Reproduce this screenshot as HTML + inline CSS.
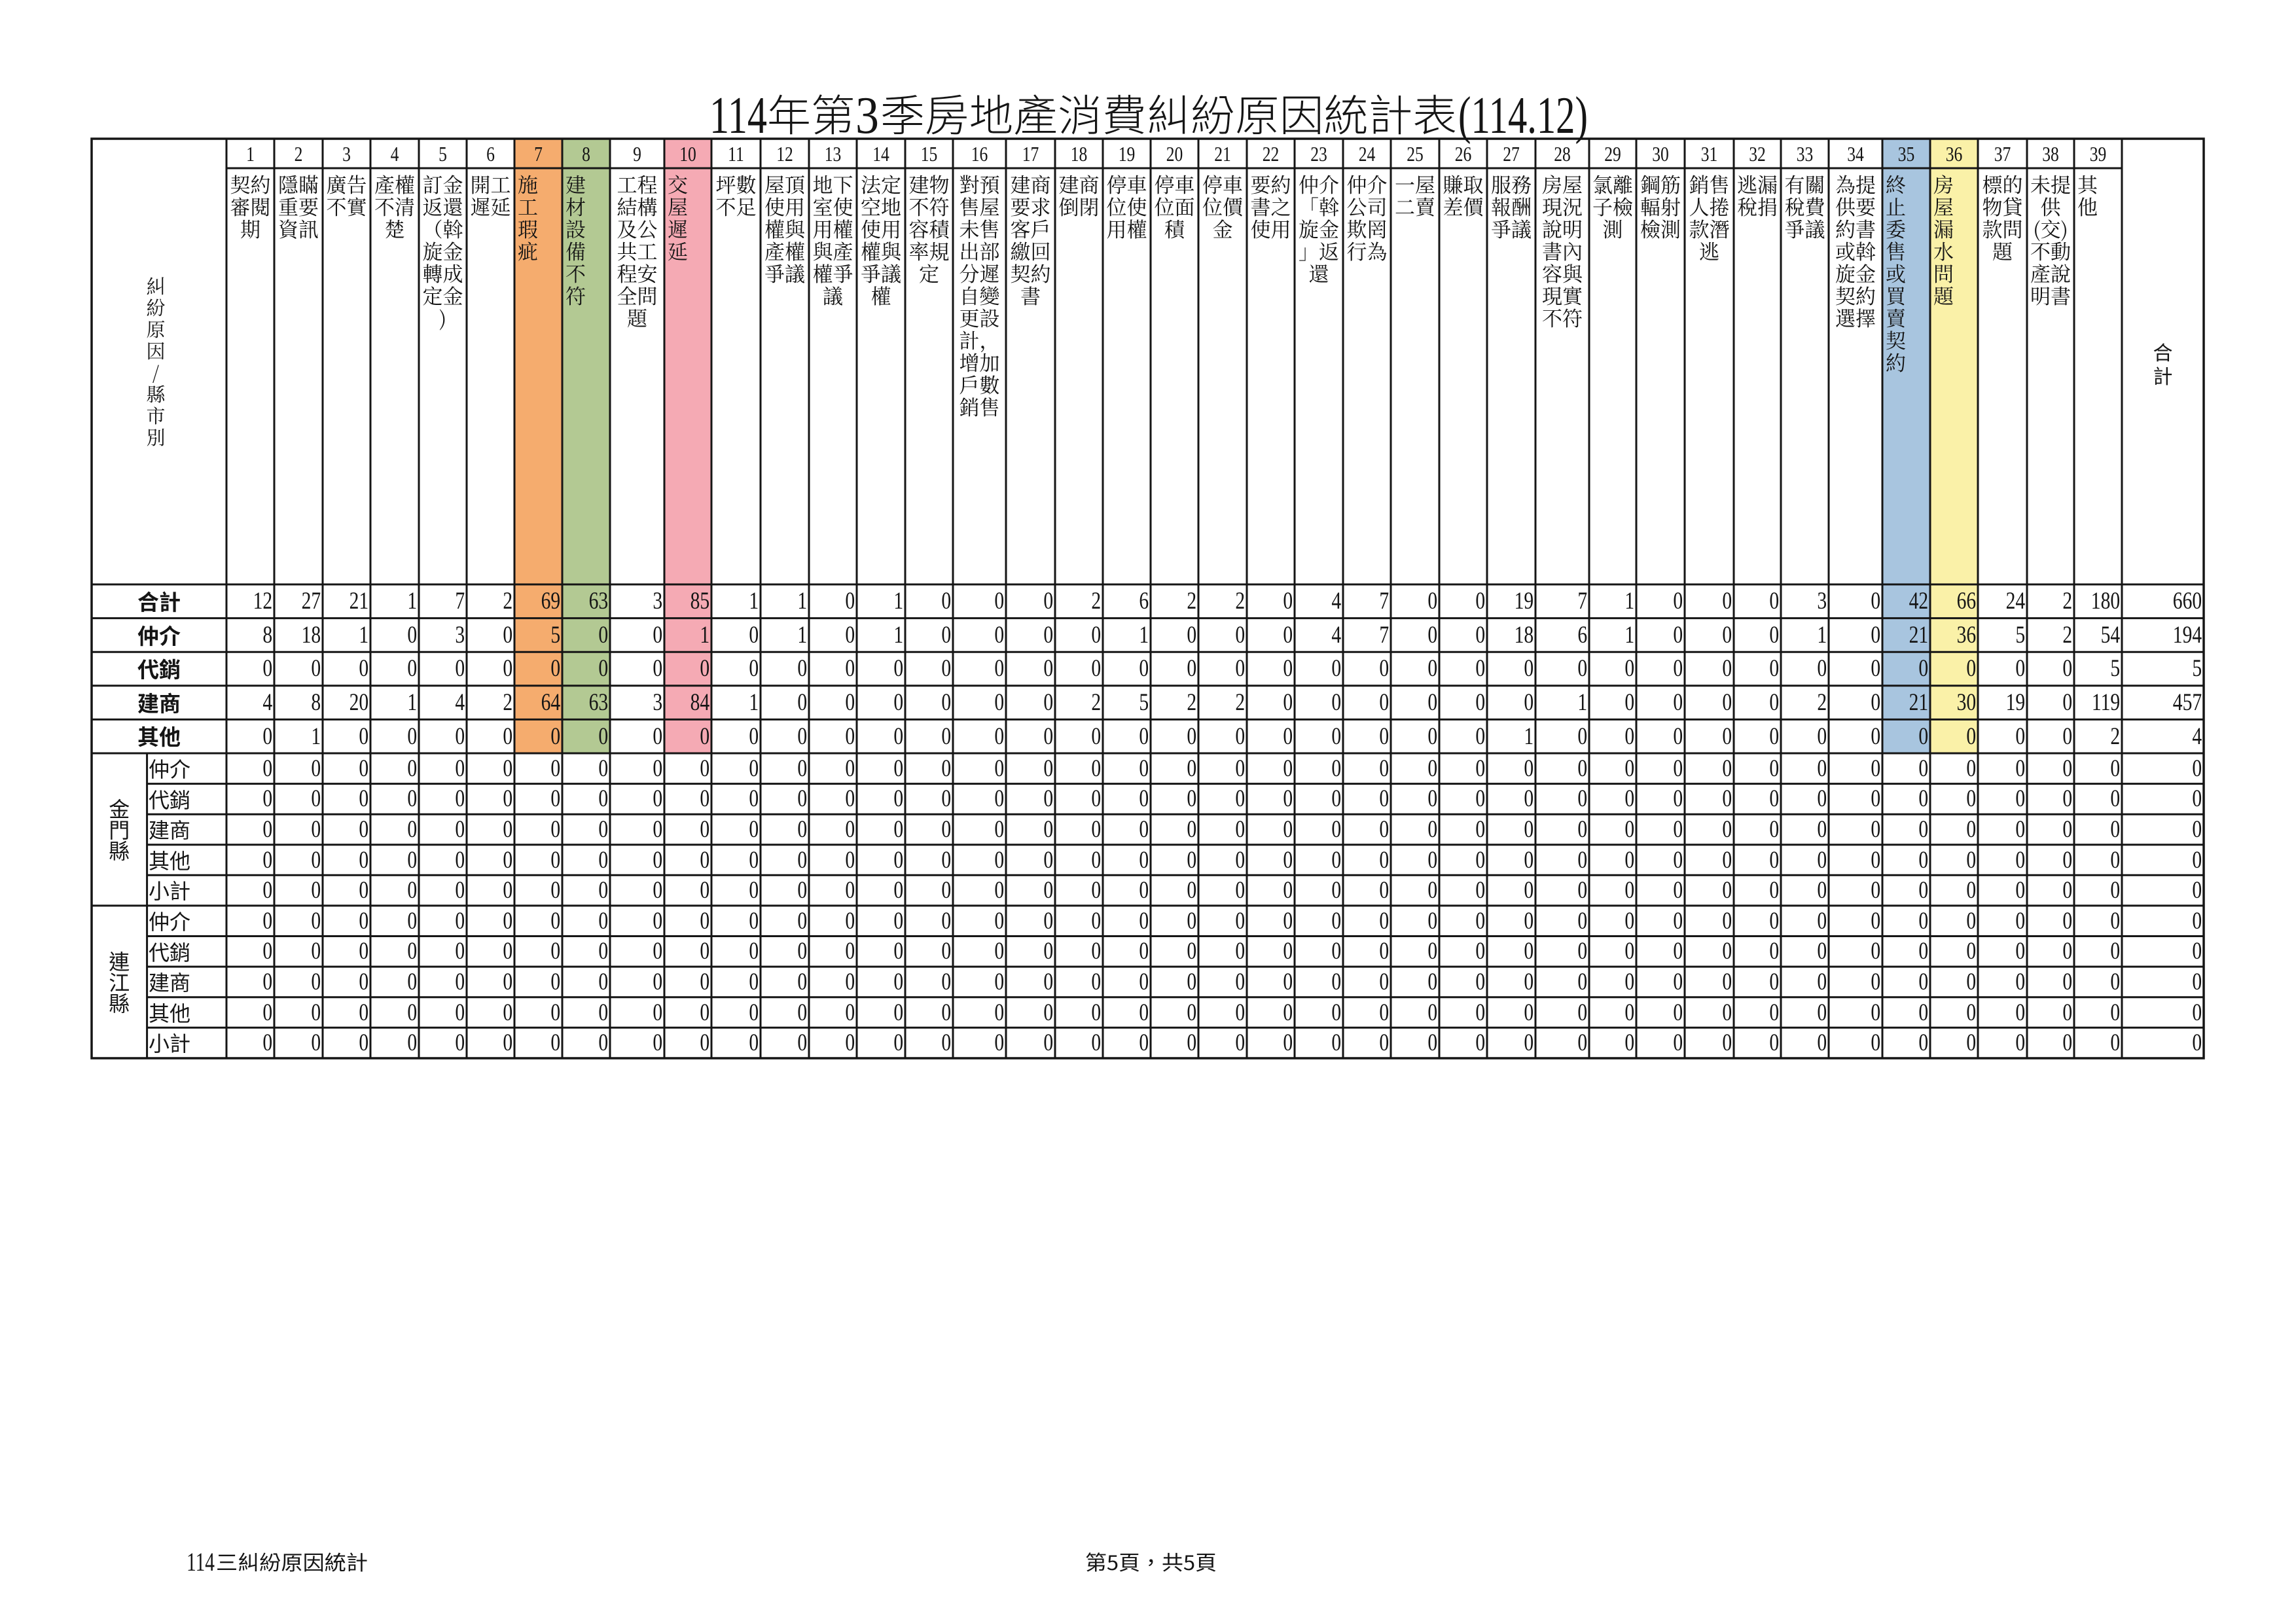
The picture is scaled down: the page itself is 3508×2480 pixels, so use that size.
<!DOCTYPE html>
<html><head><meta charset="utf-8">
<style>
*{margin:0;padding:0}
body{width:3508px;height:2480px;position:relative;background:#fff;overflow:hidden;color:#151515}
table{border-collapse:separate;border-spacing:0;table-layout:fixed;position:absolute}
td{padding:0;white-space:nowrap;overflow:visible}
.h{left:346px;top:257px;width:2896px}
.h td{height:629px;padding-top:7px;vertical-align:top;text-align:center;font:31px/34px "Noto Serif CJK SC","Noto Sans CJK TC",serif}
.h td.s{text-align:left;padding-left:5px}
.n{left:346px;top:212px;width:3776.25px;transform:scaleX(.8);transform-origin:0 0;font-family:"Liberation Serif",serif}
.n td{text-align:right;padding-right:3.5px;font-size:37px;line-height:1;vertical-align:middle}
.n tr.k td{height:45px;text-align:center;font-size:32px;padding:0}
.n tr.sp td{height:636px}
.n tr.m td{height:51.6px}
.n tr.c td{height:46.6px}
.lb{position:absolute;left:140px;width:206px;text-align:center;font:bold 33px "Noto Sans CJK TC","Noto Sans CJK SC",sans-serif;height:51.6px;line-height:51.6px}
.sl{position:absolute;left:227px;font:32px "Noto Sans CJK TC","Noto Sans CJK SC",sans-serif;height:46.6px;line-height:46.6px}
.cty{position:absolute;left:140px;width:84.6px;text-align:center;font:32px/32px "Noto Sans CJK TC","Noto Sans CJK SC",sans-serif}
</style></head>
<body>
<svg width="3508" height="2480" style="position:absolute;left:0;top:0" xmlns="http://www.w3.org/2000/svg">
<rect x="786" y="212" width="73" height="939" fill="#F5AC6E"/>
<rect x="859" y="212" width="73" height="939" fill="#B3C993"/>
<rect x="1015" y="212" width="72" height="939" fill="#F5AAB4"/>
<rect x="2876" y="212" width="73" height="939" fill="#A8C5DF"/>
<rect x="2949" y="212" width="73" height="939" fill="#FAF1A8"/>
<g stroke="#151515" stroke-width="3" fill="none">
<path d="M346 212V1617M419 212V1617M493 212V1617M566 212V1617M640 212V1617M713 212V1617M786 212V1617M859 212V1617M932 212V1617M1015 212V1617M1087 212V1617M1162 212V1617M1236 212V1617M1309 212V1617M1383 212V1617M1456 212V1617M1537 212V1617M1612 212V1617M1685 212V1617M1758 212V1617M1831 212V1617M1905 212V1617M1978 212V1617M2052 212V1617M2125 212V1617M2199 212V1617M2272 212V1617M2346 212V1617M2428 212V1617M2500 212V1617M2574 212V1617M2649 212V1617M2721 212V1617M2794 212V1617M2876 212V1617M2949 212V1617M3022 212V1617M3097 212V1617M3169 212V1617M3242 212V1617M224.6 1151V1617"/>
<path d="M346 257H3242M140 893H3367M140 944.6H3367M140 996.2H3367M140 1047.8H3367M140 1099.4H3367M140 1151H3367M224.6 1197.6H3367M224.6 1244.2H3367M224.6 1290.7H3367M224.6 1337.3H3367M140 1383.9H3367M224.6 1430.5H3367M224.6 1477.1H3367M224.6 1523.7H3367M224.6 1570.3H3367"/>
<rect x="140" y="212" width="3227" height="1405" stroke-width="3.5"/>
</g>
<g fill="#151515">
<text x="1084" y="203" font-family="Liberation Serif" font-size="80" textLength="88" lengthAdjust="spacingAndGlyphs">114</text>
<text x="1172" y="200" font-family="Noto Sans CJK TC, Noto Sans CJK SC, sans-serif" font-weight="300" font-size="66" textLength="134" lengthAdjust="spacingAndGlyphs">年第</text>
<text x="1307" y="203" font-family="Liberation Serif" font-size="80" textLength="36" lengthAdjust="spacingAndGlyphs">3</text>
<text x="1345" y="200" font-family="Noto Sans CJK TC, Noto Sans CJK SC, sans-serif" font-weight="300" font-size="66" textLength="881" lengthAdjust="spacingAndGlyphs">季房地產消費糾紛原因統計表</text>
<text x="2228" y="203" font-family="Liberation Serif" font-size="80" textLength="198" lengthAdjust="spacingAndGlyphs">(114.12)</text>
<text x="285" y="2400" font-family="Liberation Serif" font-size="40" textLength="43" lengthAdjust="spacingAndGlyphs">114</text>
<text x="330" y="2399" font-family="Noto Sans CJK TC, Noto Sans CJK SC, sans-serif" font-size="31" textLength="232" lengthAdjust="spacingAndGlyphs">三糾紛原因統計</text>
<text x="1658" y="2399" font-family="Noto Sans CJK TC, Noto Sans CJK SC, sans-serif" font-size="31" textLength="201" lengthAdjust="spacingAndGlyphs">第5頁，共5頁</text>
</g>
</svg>

<div style="position:absolute;left:140px;width:196px;top:420px;text-align:center;font:29px/33px 'Noto Serif CJK SC','Noto Sans CJK TC',serif">糾<br>紛<br>原<br>因<br>/<br>縣<br>市<br>別</div>
<div style="position:absolute;left:3242px;width:125px;top:519px;text-align:center;font:30px/36px 'Noto Sans CJK TC','Noto Sans CJK SC',sans-serif">合<br>計</div>

<table class="h">
<colgroup><col style="width:73px"><col style="width:74px"><col style="width:73px"><col style="width:74px"><col style="width:73px"><col style="width:73px"><col style="width:73px"><col style="width:73px"><col style="width:83px"><col style="width:72px"><col style="width:75px"><col style="width:74px"><col style="width:73px"><col style="width:74px"><col style="width:73px"><col style="width:81px"><col style="width:75px"><col style="width:73px"><col style="width:73px"><col style="width:73px"><col style="width:74px"><col style="width:73px"><col style="width:74px"><col style="width:73px"><col style="width:74px"><col style="width:73px"><col style="width:74px"><col style="width:82px"><col style="width:72px"><col style="width:74px"><col style="width:75px"><col style="width:72px"><col style="width:73px"><col style="width:82px"><col style="width:73px"><col style="width:73px"><col style="width:75px"><col style="width:72px"><col style="width:73px"></colgroup>
<tr>
<td>契約<br>審閱<br>期</td>
<td>隱瞞<br>重要<br>資訊</td>
<td>廣告<br>不實</td>
<td>產權<br>不清<br>楚</td>
<td>訂金<br>返還<br>（斡<br>旋金<br>轉成<br>定金<br>)</td>
<td>開工<br>遲延</td>
<td class="s">施<br>工<br>瑕<br>疵</td>
<td class="s">建<br>材<br>設<br>備<br>不<br>符</td>
<td>工程<br>結構<br>及公<br>共工<br>程安<br>全問<br>題</td>
<td class="s">交<br>屋<br>遲<br>延</td>
<td>坪數<br>不足</td>
<td>屋頂<br>使用<br>權與<br>產權<br>爭議</td>
<td>地下<br>室使<br>用權<br>與產<br>權爭<br>議</td>
<td>法定<br>空地<br>使用<br>權與<br>爭議<br>權</td>
<td>建物<br>不符<br>容積<br>率規<br>定</td>
<td>對預<br>售屋<br>未售<br>出部<br>分遲<br>自變<br>更設<br>計，<br>增加<br>戶數<br>銷售</td>
<td>建商<br>要求<br>客戶<br>繳回<br>契約<br>書</td>
<td>建商<br>倒閉</td>
<td>停車<br>位使<br>用權</td>
<td>停車<br>位面<br>積</td>
<td>停車<br>位價<br>金</td>
<td>要約<br>書之<br>使用</td>
<td>仲介<br>「斡<br>旋金<br>」返<br>還</td>
<td>仲介<br>公司<br>欺罔<br>行為</td>
<td>一屋<br>二賣</td>
<td>賺取<br>差價</td>
<td>服務<br>報酬<br>爭議</td>
<td>房屋<br>現況<br>說明<br>書內<br>容與<br>現實<br>不符</td>
<td>氯離<br>子檢<br>測</td>
<td>鋼筋<br>輻射<br>檢測</td>
<td>銷售<br>人捲<br>款潛<br>逃</td>
<td>逃漏<br>稅捐</td>
<td>有關<br>稅費<br>爭議</td>
<td>為提<br>供要<br>約書<br>或斡<br>旋金<br>契約<br>選擇</td>
<td class="s">終<br>止<br>委<br>售<br>或<br>買<br>賣<br>契<br>約</td>
<td class="s">房<br>屋<br>漏<br>水<br>問<br>題</td>
<td>標的<br>物貸<br>款問<br>題</td>
<td>未提<br>供<br>(交)<br>不動<br>產說<br>明書</td>
<td class="s">其<br>他</td>
</tr>
</table>

<table class="n">
<colgroup><col style="width:91.25px"><col style="width:92.5px"><col style="width:91.25px"><col style="width:92.5px"><col style="width:91.25px"><col style="width:91.25px"><col style="width:91.25px"><col style="width:91.25px"><col style="width:103.75px"><col style="width:90px"><col style="width:93.75px"><col style="width:92.5px"><col style="width:91.25px"><col style="width:92.5px"><col style="width:91.25px"><col style="width:101.25px"><col style="width:93.75px"><col style="width:91.25px"><col style="width:91.25px"><col style="width:91.25px"><col style="width:92.5px"><col style="width:91.25px"><col style="width:92.5px"><col style="width:91.25px"><col style="width:92.5px"><col style="width:91.25px"><col style="width:92.5px"><col style="width:102.5px"><col style="width:90px"><col style="width:92.5px"><col style="width:93.75px"><col style="width:90px"><col style="width:91.25px"><col style="width:102.5px"><col style="width:91.25px"><col style="width:91.25px"><col style="width:93.75px"><col style="width:90px"><col style="width:91.25px"><col style="width:156.25px"></colgroup>
<tr class="k"><td>1<td>2<td>3<td>4<td>5<td>6<td>7<td>8<td>9<td>10<td>11<td>12<td>13<td>14<td>15<td>16<td>17<td>18<td>19<td>20<td>21<td>22<td>23<td>24<td>25<td>26<td>27<td>28<td>29<td>30<td>31<td>32<td>33<td>34<td>35<td>36<td>37<td>38<td>39<td></td></tr>
<tr class="sp"><td colspan="40"></td></tr>
<tr class="m"><td>12<td>27<td>21<td>1<td>7<td>2<td>69<td>63<td>3<td>85<td>1<td>1<td>0<td>1<td>0<td>0<td>0<td>2<td>6<td>2<td>2<td>0<td>4<td>7<td>0<td>0<td>19<td>7<td>1<td>0<td>0<td>0<td>3<td>0<td>42<td>66<td>24<td>2<td>180<td>660</td></tr>
<tr class="m"><td>8<td>18<td>1<td>0<td>3<td>0<td>5<td>0<td>0<td>1<td>0<td>1<td>0<td>1<td>0<td>0<td>0<td>0<td>1<td>0<td>0<td>0<td>4<td>7<td>0<td>0<td>18<td>6<td>1<td>0<td>0<td>0<td>1<td>0<td>21<td>36<td>5<td>2<td>54<td>194</td></tr>
<tr class="m"><td>0<td>0<td>0<td>0<td>0<td>0<td>0<td>0<td>0<td>0<td>0<td>0<td>0<td>0<td>0<td>0<td>0<td>0<td>0<td>0<td>0<td>0<td>0<td>0<td>0<td>0<td>0<td>0<td>0<td>0<td>0<td>0<td>0<td>0<td>0<td>0<td>0<td>0<td>5<td>5</td></tr>
<tr class="m"><td>4<td>8<td>20<td>1<td>4<td>2<td>64<td>63<td>3<td>84<td>1<td>0<td>0<td>0<td>0<td>0<td>0<td>2<td>5<td>2<td>2<td>0<td>0<td>0<td>0<td>0<td>0<td>1<td>0<td>0<td>0<td>0<td>2<td>0<td>21<td>30<td>19<td>0<td>119<td>457</td></tr>
<tr class="m"><td>0<td>1<td>0<td>0<td>0<td>0<td>0<td>0<td>0<td>0<td>0<td>0<td>0<td>0<td>0<td>0<td>0<td>0<td>0<td>0<td>0<td>0<td>0<td>0<td>0<td>0<td>1<td>0<td>0<td>0<td>0<td>0<td>0<td>0<td>0<td>0<td>0<td>0<td>2<td>4</td></tr>
<tr class="c"><td>0<td>0<td>0<td>0<td>0<td>0<td>0<td>0<td>0<td>0<td>0<td>0<td>0<td>0<td>0<td>0<td>0<td>0<td>0<td>0<td>0<td>0<td>0<td>0<td>0<td>0<td>0<td>0<td>0<td>0<td>0<td>0<td>0<td>0<td>0<td>0<td>0<td>0<td>0<td>0</td></tr>
<tr class="c"><td>0<td>0<td>0<td>0<td>0<td>0<td>0<td>0<td>0<td>0<td>0<td>0<td>0<td>0<td>0<td>0<td>0<td>0<td>0<td>0<td>0<td>0<td>0<td>0<td>0<td>0<td>0<td>0<td>0<td>0<td>0<td>0<td>0<td>0<td>0<td>0<td>0<td>0<td>0<td>0</td></tr>
<tr class="c"><td>0<td>0<td>0<td>0<td>0<td>0<td>0<td>0<td>0<td>0<td>0<td>0<td>0<td>0<td>0<td>0<td>0<td>0<td>0<td>0<td>0<td>0<td>0<td>0<td>0<td>0<td>0<td>0<td>0<td>0<td>0<td>0<td>0<td>0<td>0<td>0<td>0<td>0<td>0<td>0</td></tr>
<tr class="c"><td>0<td>0<td>0<td>0<td>0<td>0<td>0<td>0<td>0<td>0<td>0<td>0<td>0<td>0<td>0<td>0<td>0<td>0<td>0<td>0<td>0<td>0<td>0<td>0<td>0<td>0<td>0<td>0<td>0<td>0<td>0<td>0<td>0<td>0<td>0<td>0<td>0<td>0<td>0<td>0</td></tr>
<tr class="c"><td>0<td>0<td>0<td>0<td>0<td>0<td>0<td>0<td>0<td>0<td>0<td>0<td>0<td>0<td>0<td>0<td>0<td>0<td>0<td>0<td>0<td>0<td>0<td>0<td>0<td>0<td>0<td>0<td>0<td>0<td>0<td>0<td>0<td>0<td>0<td>0<td>0<td>0<td>0<td>0</td></tr>
<tr class="c"><td>0<td>0<td>0<td>0<td>0<td>0<td>0<td>0<td>0<td>0<td>0<td>0<td>0<td>0<td>0<td>0<td>0<td>0<td>0<td>0<td>0<td>0<td>0<td>0<td>0<td>0<td>0<td>0<td>0<td>0<td>0<td>0<td>0<td>0<td>0<td>0<td>0<td>0<td>0<td>0</td></tr>
<tr class="c"><td>0<td>0<td>0<td>0<td>0<td>0<td>0<td>0<td>0<td>0<td>0<td>0<td>0<td>0<td>0<td>0<td>0<td>0<td>0<td>0<td>0<td>0<td>0<td>0<td>0<td>0<td>0<td>0<td>0<td>0<td>0<td>0<td>0<td>0<td>0<td>0<td>0<td>0<td>0<td>0</td></tr>
<tr class="c"><td>0<td>0<td>0<td>0<td>0<td>0<td>0<td>0<td>0<td>0<td>0<td>0<td>0<td>0<td>0<td>0<td>0<td>0<td>0<td>0<td>0<td>0<td>0<td>0<td>0<td>0<td>0<td>0<td>0<td>0<td>0<td>0<td>0<td>0<td>0<td>0<td>0<td>0<td>0<td>0</td></tr>
<tr class="c"><td>0<td>0<td>0<td>0<td>0<td>0<td>0<td>0<td>0<td>0<td>0<td>0<td>0<td>0<td>0<td>0<td>0<td>0<td>0<td>0<td>0<td>0<td>0<td>0<td>0<td>0<td>0<td>0<td>0<td>0<td>0<td>0<td>0<td>0<td>0<td>0<td>0<td>0<td>0<td>0</td></tr>
<tr class="c"><td>0<td>0<td>0<td>0<td>0<td>0<td>0<td>0<td>0<td>0<td>0<td>0<td>0<td>0<td>0<td>0<td>0<td>0<td>0<td>0<td>0<td>0<td>0<td>0<td>0<td>0<td>0<td>0<td>0<td>0<td>0<td>0<td>0<td>0<td>0<td>0<td>0<td>0<td>0<td>0</td></tr>
</table>

<div class="lb" style="top:893px">合計</div>
<div class="lb" style="top:944.6px">仲介</div>
<div class="lb" style="top:996.2px">代銷</div>
<div class="lb" style="top:1047.8px">建商</div>
<div class="lb" style="top:1099.4px">其他</div>

<div class="sl" style="top:1151px">仲介</div>
<div class="sl" style="top:1197.6px">代銷</div>
<div class="sl" style="top:1244.2px">建商</div>
<div class="sl" style="top:1290.7px">其他</div>
<div class="sl" style="top:1337.3px">小計</div>
<div class="sl" style="top:1383.9px">仲介</div>
<div class="sl" style="top:1430.5px">代銷</div>
<div class="sl" style="top:1477.1px">建商</div>
<div class="sl" style="top:1523.7px">其他</div>
<div class="sl" style="top:1570.3px">小計</div>

<div class="cty" style="top:1219px">金<br>門<br>縣</div>
<div class="cty" style="top:1452px">連<br>江<br>縣</div>
</body></html>
